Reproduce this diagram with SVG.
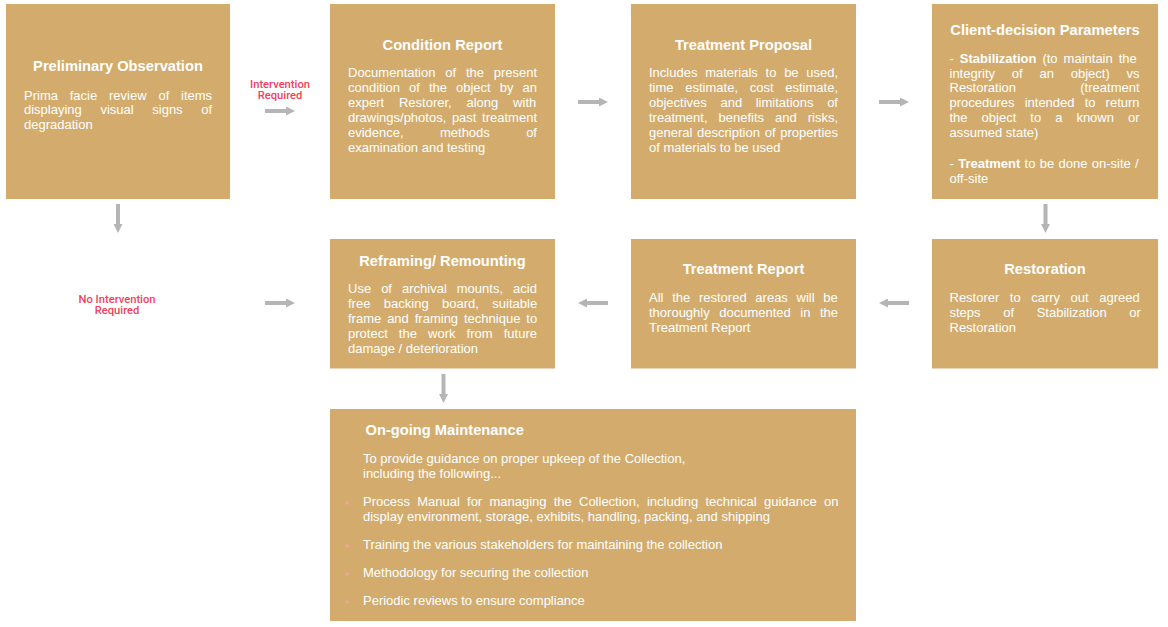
<svg xmlns="http://www.w3.org/2000/svg" width="1168" height="627" viewBox="0 0 1168 627">
<style>
.box{fill:#D3AC6D}
.t{font-family:"Liberation Sans",Arial,sans-serif;font-size:14.7px;font-weight:bold;fill:#fff;text-anchor:middle}
.tl{font-family:"Liberation Sans",Arial,sans-serif;font-size:14.7px;font-weight:bold;fill:#fff}
.b{font-family:"Liberation Sans",Arial,sans-serif;font-size:13px;fill:#fff}
.bd{font-weight:bold}
.lbl{font-family:Roboto,"Liberation Sans",sans-serif;font-size:11.2px;font-weight:500;fill:#F2405C;text-anchor:middle}
.arr{stroke:#B5B5B5;stroke-width:4;fill:none;marker-end:url(#ah)}
.bul{fill:#F0A49C}
</style>
<defs>
<marker id="ah" viewBox="0 0 9 9" refX="0" refY="4.5" markerWidth="9" markerHeight="9" markerUnits="userSpaceOnUse" orient="auto">
<path d="M0,0 L9,4.5 L0,9 z" fill="#B5B5B5"/>
</marker>
</defs>
<rect width="1168" height="627" fill="#fff"/>

<g id="preliminary-observation">
<rect class="box" x="6" y="4" width="224" height="195"/>
<text class="t" x="118" y="71">Preliminary Observation</text>
<text class="b" x="24" y="99.5" style="word-spacing:8.2px">Prima facie review of items</text>
<text class="b" x="24" y="114.2" style="word-spacing:15px">displaying visual signs of</text>
<text class="b" x="24" y="128.9">degradation</text>
</g>

<g id="condition-report">
<rect class="box" x="330" y="4" width="225" height="195"/>
<text class="t" x="442.5" y="49.5">Condition Report</text>
<text class="b" x="348" y="77.4" style="word-spacing:6.2px">Documentation of the present</text>
<text class="b" x="348" y="92.2" style="word-spacing:5.4px">condition of the object by an</text>
<text class="b" x="348" y="107.1" style="word-spacing:11.2px">expert Restorer, along with</text>
<text class="b" x="348" y="121.9" style="word-spacing:2px">drawings/photos, past treatment</text>
<text class="b" x="348" y="136.8" style="word-spacing:32.7px">evidence, methods of</text>
<text class="b" x="348" y="151.6">examination and testing</text>
</g>

<g id="treatment-proposal">
<rect class="box" x="631" y="4" width="225" height="195"/>
<text class="t" x="743.5" y="49.5">Treatment Proposal</text>
<text class="b" x="649" y="77.4" style="word-spacing:4.1px">Includes materials to be used,</text>
<text class="b" x="649" y="92.2" style="word-spacing:8.1px">time estimate, cost estimate,</text>
<text class="b" x="649" y="107.1" style="word-spacing:10px">objectives and limitations of</text>
<text class="b" x="649" y="121.9" style="word-spacing:7.4px">treatment, benefits and risks,</text>
<text class="b" x="649" y="136.8" style="word-spacing:1.1px">general description of properties</text>
<text class="b" x="649" y="151.6">of materials to be used</text>
</g>

<g id="client-decision-parameters">
<rect class="box" x="932" y="4" width="226" height="195"/>
<text class="t" x="1045" y="34.5">Client-decision Parameters</text>
<text class="b" x="949.5" y="62.7" style="word-spacing:2.4px">- <tspan class="bd">Stabilization</tspan> (to maintain the</text>
<text class="b" x="949.5" y="77.5" style="word-spacing:13.2px">integrity of an object) vs</text>
<text class="b" x="949.5" y="92.4" style="word-spacing:60.7px">Restoration (treatment</text>
<text class="b" x="949.5" y="107.2" style="word-spacing:6.5px">procedures intended to return</text>
<text class="b" x="949.5" y="122" style="word-spacing:10.4px">the object to a known or</text>
<text class="b" x="949.5" y="136.9">assumed state)</text>
<text class="b" x="949.5" y="168" style="word-spacing:0.7px">- <tspan class="bd">Treatment</tspan> to be done on-site /</text>
<text class="b" x="949.5" y="182.9">off-site</text>
</g>

<g id="reframing-remounting">
<rect class="box" x="330" y="239" width="225" height="129.5"/>
<text class="t" x="442.5" y="265.7">Reframing/ Remounting</text>
<text class="b" x="348" y="293.4" style="word-spacing:6.4px">Use of archival mounts, acid</text>
<text class="b" x="348" y="308.2" style="word-spacing:9.8px">free backing board, suitable</text>
<text class="b" x="348" y="323.1" style="word-spacing:2.3px">frame and framing technique to</text>
<text class="b" x="348" y="337.9" style="word-spacing:7.5px">protect the work from future</text>
<text class="b" x="348" y="352.7">damage / deterioration</text>
</g>

<g id="treatment-report">
<rect class="box" x="631" y="239" width="225" height="129.5"/>
<text class="t" x="743.5" y="274.3">Treatment Report</text>
<text class="b" x="649" y="302.4" style="word-spacing:5.1px">All the restored areas will be</text>
<text class="b" x="649" y="317.2" style="word-spacing:5.9px">thoroughly documented in the</text>
<text class="b" x="649" y="332">Treatment Report</text>
</g>

<g id="restoration">
<rect class="box" x="932" y="239" width="226" height="129.5"/>
<text class="t" x="1045" y="274.3">Restoration</text>
<text class="b" x="949.5" y="302.4" style="word-spacing:6.9px">Restorer to carry out agreed</text>
<text class="b" x="949.5" y="317.2" style="word-spacing:19px">steps of Stabilization or</text>
<text class="b" x="949.5" y="332">Restoration</text>
</g>

<g id="ongoing-maintenance">
<rect class="box" x="330" y="409" width="526" height="212"/>
<text class="tl" x="365.5" y="435">On-going Maintenance</text>
<text class="b" x="363" y="462.7">To provide guidance on proper upkeep of the Collection,</text>
<text class="b" x="363" y="477.7">including the following...</text>
<rect class="bul" x="345.5" y="501.5" width="3" height="3"/>
<text class="b" x="363" y="505.7" style="word-spacing:3.6px">Process Manual for managing the Collection, including technical guidance on</text>
<text class="b" x="363" y="520.7">display environment, storage, exhibits, handling, packing, and shipping</text>
<rect class="bul" x="345.5" y="544.5" width="3" height="3"/>
<text class="b" x="363" y="548.7">Training the various stakeholders for maintaining the collection</text>
<rect class="bul" x="345.5" y="572.5" width="3" height="3"/>
<text class="b" x="363" y="576.7">Methodology for securing the collection</text>
<rect class="bul" x="345.5" y="600.5" width="3" height="3"/>
<text class="b" x="363" y="604.7">Periodic reviews to ensure compliance</text>
</g>

<g id="labels">
<text class="lbl" x="280" y="87.5">Intervention</text>
<text class="lbl" x="280" y="99">Required</text>
<text class="lbl" x="117" y="302.7">No Intervention</text>
<text class="lbl" x="117" y="314.2">Required</text>
</g>

<g id="connectors">
<line class="arr" x1="265" y1="111" x2="286" y2="111"/>
<line class="arr" x1="578" y1="102" x2="599" y2="102"/>
<line class="arr" x1="879" y1="102" x2="900" y2="102"/>
<line class="arr" x1="118" y1="204" x2="118" y2="224"/>
<line class="arr" x1="1045.5" y1="204" x2="1045.5" y2="224"/>
<line class="arr" x1="265" y1="303" x2="286" y2="303"/>
<line class="arr" x1="909" y1="303" x2="888" y2="303"/>
<line class="arr" x1="608" y1="303" x2="587" y2="303"/>
<line class="arr" x1="443.5" y1="374" x2="443.5" y2="394"/>
</g>
</svg>
